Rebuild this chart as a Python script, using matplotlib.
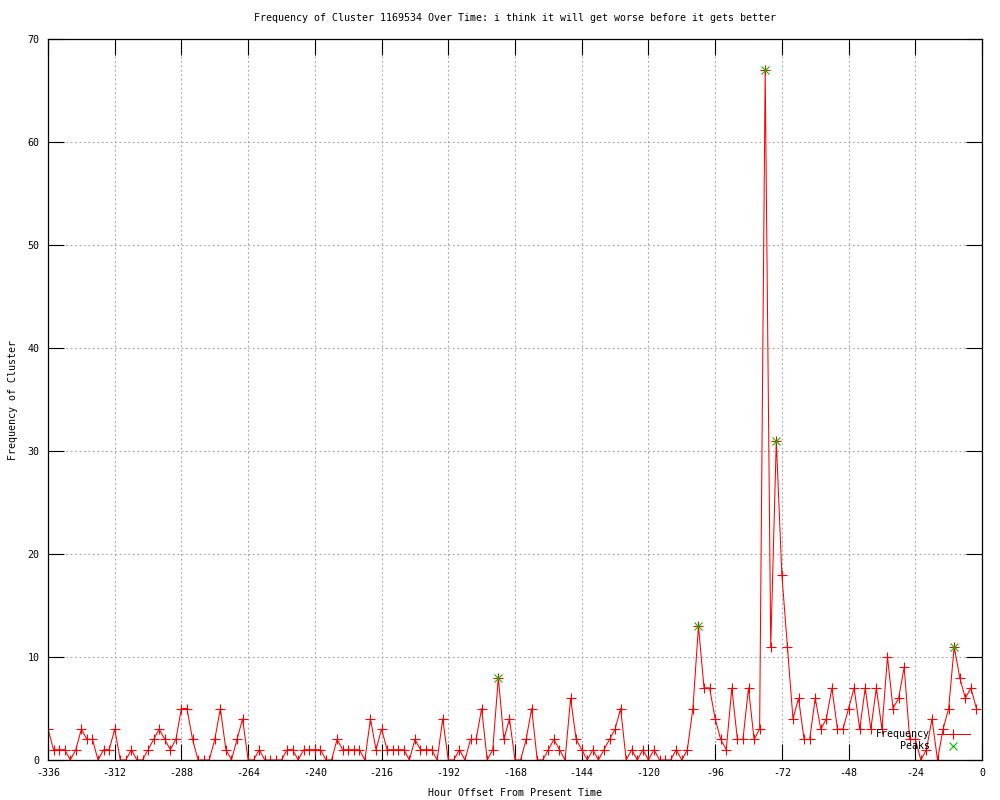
import numpy as np
import matplotlib
matplotlib.use("Agg")
import matplotlib.pyplot as plt

plt.rcParams['font.family'] = ['DejaVu Sans Mono']
plt.rcParams['axes.unicode_minus'] = False

# hourly buckets, 2h apart, from -336 up to -2
hours = np.arange(-336, 0, 2)
freq = [3, 1, 1, 1, 0, 1, 3, 2, 2, 0,
        1, 1, 3, 0, 0, 1, 0, 0, 1, 2,
        3, 2, 1, 2, 5, 5, 2, 0, 0, 0,
        2, 5, 1, 0, 2, 4, 0, 0, 1, 0,
        0, 0, 0, 1, 1, 0, 1, 1, 1, 1,
        0, 0, 2, 1, 1, 1, 1, 0, 4, 1,
        3, 1, 1, 1, 1, 0, 2, 1, 1, 1,
        0, 4, 0, 0, 1, 0, 2, 2, 5, 0,
        1, 8, 2, 4, 0, 0, 2, 5, 0, 0,
        1, 2, 1, 0, 6, 2, 1, 0, 1, 0,
        1, 2, 3, 5, 0, 1, 0, 1, 0, 1,
        0, 0, 0, 1, 0, 1, 5, 13, 7, 7,
        4, 2, 1, 7, 2, 2, 7, 2, 3, 67,
        11, 31, 18, 11, 4, 6, 2, 2, 6, 3,
        4, 7, 3, 3, 5, 7, 3, 7, 3, 7,
        3, 10, 5, 6, 9, 2, 2, 0, 1, 4,
        0, 3, 5, 11, 8, 6, 7, 5]
peak_idx = [81, 117, 129, 131, 163]

xticks = np.arange(-336, 1, 24)
yticks = np.arange(0, 71, 10)

title = "Frequency of Cluster 1169534 Over Time: i think it will get worse before it gets better"
fs = 7.2

fig = plt.figure(figsize=(10, 8), dpi=100)
ax = fig.add_axes([0.048, 0.05, 0.934, 0.901])

ax.plot(hours, freq, color='#ff0000', lw=0.75, marker='+', ms=7, mew=0.8,
        label='Frequency')
ph = [hours[i] for i in peak_idx]
pv = [freq[i] for i in peak_idx]
ax.plot(ph, pv, ls='none', color='#00c000', marker='x', ms=6, mew=0.8,
        label='Peaks')

ax.set_xlim(-336, 0)
ax.set_ylim(0, 70)
ax.set_xticks(xticks)
ax.set_yticks(yticks)
ax.tick_params(direction='in', length=11.5, width=0.8, top=True, right=True,
               labelsize=fs, pad=6, colors='black')
ax.grid(True, color='#a0a0a0', linestyle=(0, (1.5, 2.5)), linewidth=0.8)
for s in ax.spines.values():
    s.set_linewidth(0.9)

fig.text(0.515, 1 - 18 / 800, title, ha='center', va='center', fontsize=fs)
fig.text(0.515, 1 - 793 / 800, "Hour Offset From Present Time",
         ha='center', va='center', fontsize=fs)
fig.text(0.013, 0.5, "Frequency of Cluster", rotation=90,
         ha='center', va='center', fontsize=fs)

ax.legend(loc='lower right', bbox_to_anchor=(0.987, 0.012), frameon=False,
          markerfirst=False, fontsize=fs, handlelength=3.3, handletextpad=0.7,
          labelspacing=0.2, borderpad=0, borderaxespad=0, numpoints=1)

fig.savefig('out.png', dpi=100)
